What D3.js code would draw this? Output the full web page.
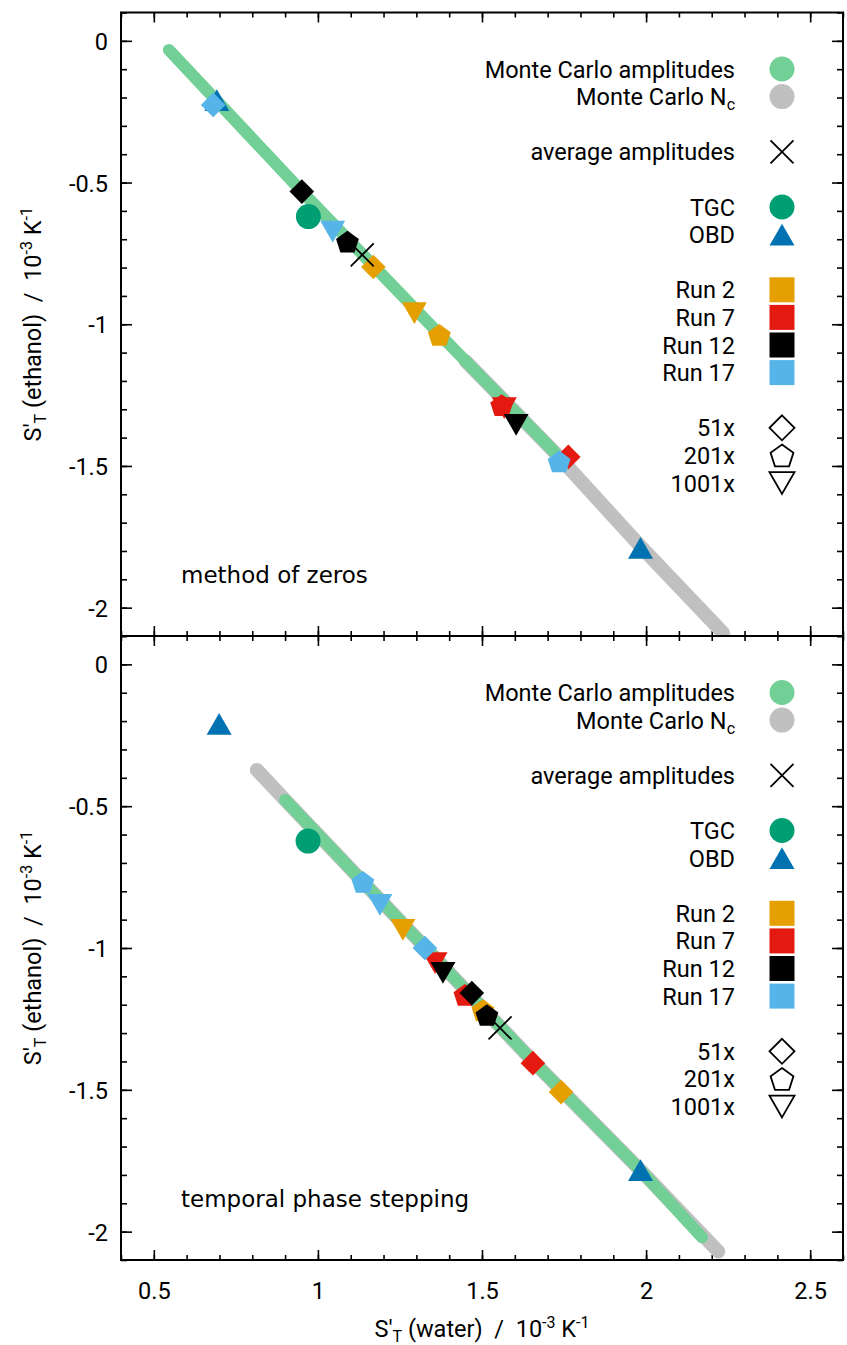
<!DOCTYPE html>
<html>
<head>
<meta charset="utf-8">
<script src="https://d3js.org/d3.v7.min.js"></script>
<style>
  body { margin: 0; background: #fff; }
</style>
</head>
<body>
<div id="chart"></div>
<script>
// ---- data ----
const xTickValues = [0.5, 1, 1.5, 2, 2.5];
const xTickLabels = ["0.5", "1", "1.5", "2", "2.5"];
const yTickValues = [0, -0.5, -1, -1.5, -2];
const yTickLabels = ["0", "-0.5", "-1", "-1.5", "-2"];

const panelNames = ["method of zeros", "temporal phase stepping"];

// Monte Carlo clouds (centre line of the band)
const mcAmpZeros = [[0.546, -0.032], [0.95, -0.53], [1.37, -1.035], [1.72, -1.45]];
const mcNcZeros = [[1.45, -1.13], [1.72, -1.45], [1.98, -1.78], [2.235, -2.09]];
const mcAmpPhase = [[0.90, -0.478], [1.30, -0.965], [1.66, -1.405], [1.98, -1.78], [2.17, -2.02]];
const mcNcPhase = [[0.814, -0.372], [0.90, -0.478], [1.30, -0.965], [1.66, -1.405], [1.98, -1.78], [2.22, -2.07]];

const avgZeros = [1.135, -0.755];
const avgPhase = [1.555, -1.282];
const tgcZeros = [0.971, -0.62];
const tgcPhase = [0.970, -0.623];
const obdZeros = [[0.692, -0.209], [1.983, -1.789]];
const obdPhase = [[0.699, -0.210], [1.983, -1.783]];

// runs in order: Run 2, Run 7, Run 12, Run 17
const runNames = ["Run 2", "Run 7", "Run 12", "Run 17"];
const zeros51 = [[1.169, -0.798], [1.763, -1.468], [0.951, -0.532], [0.681, -0.226]];
const zeros201 = [[1.370, -1.037], [1.560, -1.285], [1.090, -0.708], [1.735, -1.484]];
const zeros1001 = [[1.294, -0.961], [1.568, -1.296], [1.604, -1.355], [1.045, -0.673]];
const phase51 = [[1.741, -1.508], [1.655, -1.406], [1.469, -1.159], [1.326, -1.0]];
const phase201 = [[1.503, -1.219], [1.448, -1.165], [1.515, -1.236], [1.137, -0.767]];
const phase1001 = [[1.259, -0.936], [1.357, -1.053], [1.381, -1.088], [1.189, -0.848]];

// ---- styles ----
const runColors = ["#e69f00", "#e41a10", "#000000", "#56b4e9"];
const colAmp = "#72cf96", colNc = "#c0c0c0", colTGC = "#009e73", colOBD = "#0072b2";
const FONT = "Roboto", FS = 23.5, FS_SUB = 16;

const W = 847, H = 1345;
const svg = d3.select("#chart").append("svg").attr("width", W).attr("height", H)
  .style("font-family", FONT);

const x = d3.scaleLinear().domain([0.4, 2.6]).range([121, 843]);
const yScales = [
  d3.scaleLinear().domain([-2.1, 0.1]).range([636, 12.5]),
  d3.scaleLinear().domain([-2.1, 0.1]).range([1260, 636])
];

const minorX = d3.range(4, 27).map(i => i / 10);
const minorY = d3.range(-21, 2).map(i => i / 10);

function shape(type, r) {
  if (type === "circle") return d3.symbol(d3.symbolCircle, Math.PI * r * r)();
  if (type === "square") return `M${-r},${-r}H${r}V${r}H${-r}Z`;
  if (type === "diamond") return `M0,${-r}L${r},0L0,${r}L${-r},0Z`;
  if (type === "pentagon") {
    const pts = d3.range(5).map(k => {
      const a = -Math.PI / 2 + k * 2 * Math.PI / 5;
      return [r * Math.cos(a), r * Math.sin(a) + r * 0.1];
    });
    return d3.line()(pts) + "Z";
  }
  const s = r * 2, h = s * 0.87;
  if (type === "triUp") return `M0,${-h / 2}L${s / 2},${h / 2}L${-s / 2},${h / 2}Z`;
  if (type === "triDown") return `M0,${h / 2}L${s / 2},${-h / 2}L${-s / 2},${-h / 2}Z`;
  if (type === "cross") return `M${-r},${-r}L${r},${r}M${-r},${r}L${r},${-r}`;
}

function mark(g, type, px, py, r, fill, stroke) {
  g.append("path")
    .attr("d", shape(type, r))
    .attr("transform", `translate(${px},${py})`)
    .attr("fill", fill || "none")
    .attr("stroke", stroke || "none")
    .attr("stroke-width", stroke ? 1.8 : 0);
}

// title with subscript T and superscripts
function axisTitle(t, middle) {
  t.style("white-space", "pre").attr("text-anchor", "middle").attr("font-size", FS);
  t.append("tspan").text("S'");
  t.append("tspan").attr("font-size", FS_SUB).attr("dy", 5).text("T");
  t.append("tspan").attr("dy", -5).text(" (" + middle + ")  /  10");
  t.append("tspan").attr("font-size", FS_SUB).attr("dy", -9).text("-3");
  t.append("tspan").attr("dy", 9).text(" K");
  t.append("tspan").attr("font-size", FS_SUB).attr("dy", -9).text("-1");
}

function drawPanel(p) {
  const y = yScales[p];
  const [yb, yt] = y.range();
  const g = svg.append("g");

  // axes (ticks point inward)
  const axes = [
    g.append("g").attr("transform", `translate(0,${yb})`).call(d3.axisBottom(x).tickValues(minorX).tickSize(-5).tickFormat("")),
    g.append("g").attr("transform", `translate(0,${yt})`).call(d3.axisTop(x).tickValues(minorX).tickSize(-5).tickFormat("")),
    g.append("g").attr("transform", `translate(0,${yt})`).call(d3.axisTop(x).tickValues(xTickValues).tickSize(-10).tickFormat("")),
    g.append("g").attr("transform", "translate(121,0)").call(d3.axisLeft(y).tickValues(minorY).tickSize(-6).tickFormat("")),
    g.append("g").attr("transform", "translate(843,0)").call(d3.axisRight(y).tickValues(minorY).tickSize(-6).tickFormat("")),
    g.append("g").attr("transform", "translate(843,0)").call(d3.axisRight(y).tickValues(yTickValues).tickSize(-11).tickFormat("")),
    g.append("g").attr("transform", "translate(121,0)").call(d3.axisLeft(y).tickValues(yTickValues).tickSize(-11).tickPadding(13).tickFormat((d, i) => yTickLabels[i])),
    g.append("g").attr("transform", `translate(0,${yb})`).call(d3.axisBottom(x).tickValues(xTickValues).tickSize(-10).tickPadding(22)
      .tickFormat((d, i) => p === 1 ? xTickLabels[i] : ""))
  ];
  axes.forEach(a => {
    a.select(".domain").remove();
    a.selectAll("line").attr("stroke", "#000").attr("stroke-width", 1.6);
    a.attr("font-family", FONT).attr("font-size", FS);
    a.selectAll("text").attr("fill", "#000");
  });
  axes[6].selectAll("text").attr("dy", "0.36em");

  const line = d3.line().x(d => x(d[0])).y(d => y(d[1]));
  const clipId = "clip" + p;
  svg.append("clipPath").attr("id", clipId).append("rect")
    .attr("x", 121).attr("y", yt).attr("width", 722).attr("height", yb - yt);
  const data = g.append("g").attr("clip-path", `url(#${clipId})`);

  const amp = p === 0 ? mcAmpZeros : mcAmpPhase;
  const nc = p === 0 ? mcNcZeros : mcNcPhase;
  data.append("path").attr("d", line(nc)).attr("fill", "none").attr("stroke", colNc)
    .attr("stroke-width", 14).attr("stroke-linecap", "round").attr("stroke-linejoin", "round");
  data.append("path").attr("d", line(amp)).attr("fill", "none").attr("stroke", colAmp)
    .attr("stroke-width", 12).attr("stroke-linecap", "round").attr("stroke-linejoin", "round");

  const tgc = p === 0 ? tgcZeros : tgcPhase;
  mark(data, "circle", x(tgc[0]), y(tgc[1]), 12.5, colTGC);
  (p === 0 ? obdZeros : obdPhase).forEach(d => mark(data, "triUp", x(d[0]), y(d[1]), 12.5, colOBD));

  const s51 = p === 0 ? zeros51 : phase51;
  const s201 = p === 0 ? zeros201 : phase201;
  const s1001 = p === 0 ? zeros1001 : phase1001;
  runNames.forEach((name, i) => {
    mark(data, "diamond", x(s51[i][0]), y(s51[i][1]), 12.3, runColors[i]);
    mark(data, "pentagon", x(s201[i][0]), y(s201[i][1]), 12, runColors[i]);
    mark(data, "triDown", x(s1001[i][0]), y(s1001[i][1]), 12.5, runColors[i]);
  });
  const avg = p === 0 ? avgZeros : avgPhase;
  mark(data, "cross", x(avg[0]), y(avg[1]), 11.5, null, "#000");

  // legend
  const row = k => yt + 56.5 + k * 27.6;
  const lg = g.append("g");
  const entries = [
    [0, "Monte Carlo amplitudes", "circle", colAmp, null],
    [1, "Monte Carlo N", "circle", colNc, null, "c"],
    [3, "average amplitudes", "cross", null, "#000"],
    [5, "TGC", "circle", colTGC, null],
    [6, "OBD", "triUp", colOBD, null],
    [8, runNames[0], "square", runColors[0], null],
    [9, runNames[1], "square", runColors[1], null],
    [10, runNames[2], "square", runColors[2], null],
    [11, runNames[3], "square", runColors[3], null],
    [13, "51x", "diamond", null, "#000"],
    [14, "201x", "pentagon", null, "#000"],
    [15, "1001x", "triDown", null, "#000"]
  ];
  entries.forEach(([k, label, type, fill, stroke, sub]) => {
    const ry = row(k);
    const t = lg.append("text").attr("x", 735).attr("y", ry + 8.5)
      .attr("text-anchor", "end").attr("font-size", FS).text(label);
    if (sub) t.append("tspan").attr("font-size", FS_SUB).attr("dy", 5).text(sub);
    const r = type === "cross" ? 11.5 : type === "pentagon" ? 12 : 12.5;
    mark(lg, type, 782, ry, r, fill, stroke);
  });

  // panel name
  g.append("text").attr("x", 181).attr("y", yb - 53)
    .style("font-family", "DejaVu Sans").attr("font-size", 23).text(panelNames[p]);

  // y title
  axisTitle(g.append("text").attr("transform", `translate(41,${(yt + yb) / 2}) rotate(-90)`), "ethanol");

  // border
  g.append("rect").attr("x", 121).attr("y", yt).attr("width", 722).attr("height", yb - yt)
    .attr("fill", "none").attr("stroke", "#000").attr("stroke-width", 2);
}

drawPanel(0);
drawPanel(1);

// x title
axisTitle(svg.append("text").attr("x", 482).attr("y", 1337), "water");
</script>
</body>
</html>
